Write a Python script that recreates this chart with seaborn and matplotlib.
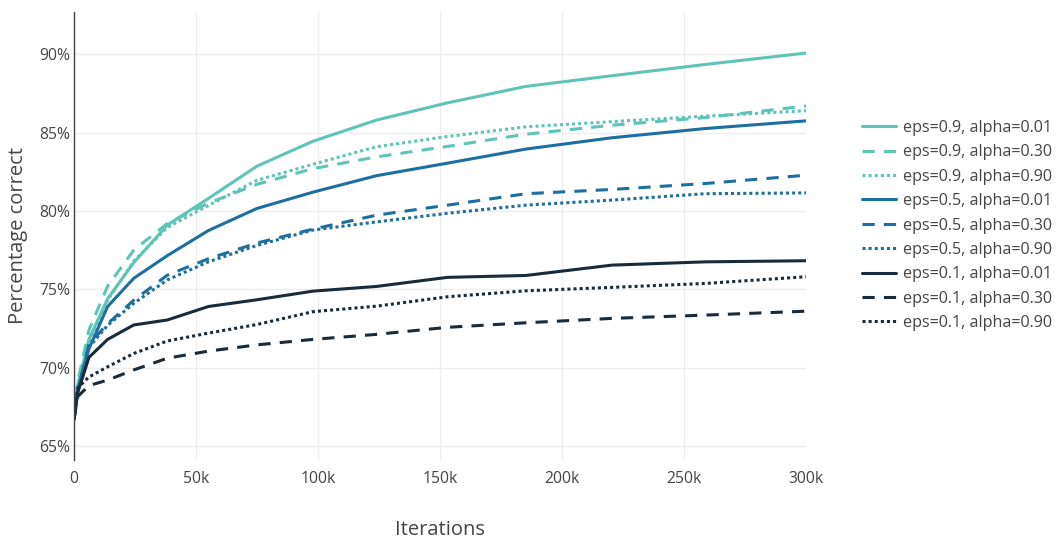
import numpy as np
import pandas as pd
import matplotlib
matplotlib.use("Agg")
import matplotlib.pyplot as plt
import seaborn as sns

# Training iterations at which accuracy was evaluated
iterations = [0, 1531, 6122, 13776, 24490, 38265, 55102, 75000, 97959,
              123980, 153061, 185204, 220408, 258673, 300000]

# Percentage correct for each (epsilon, alpha) configuration
eps09_a001 = [66.7, 68.9, 71.8, 74.4, 76.7, 79.1, 80.8, 82.86, 84.45, 85.8, 86.9, 87.95, 88.63, 89.35, 90.08]
eps09_a030 = [66.7, 69.1, 72.4, 75.2, 77.5, 79.2, 80.5, 81.7, 82.7, 83.45, 84.12, 84.9, 85.47, 85.96, 86.7]
eps09_a090 = [66.7, 68.9, 71.6, 74.3, 76.8, 78.95, 80.35, 81.96, 82.98, 84.1, 84.75, 85.37, 85.7, 86.05, 86.4]
eps05_a001 = [66.7, 68.6, 71.2, 73.9, 75.7, 77.15, 78.75, 80.16, 81.2, 82.25, 83.05, 83.95, 84.67, 85.26, 85.75]
eps05_a030 = [66.7, 68.5, 71.5, 72.8, 74.3, 75.9, 76.95, 77.95, 78.84, 79.73, 80.37, 81.1, 81.37, 81.75, 82.28]
eps05_a090 = [66.7, 68.5, 71.3, 72.7, 74.1, 75.6, 76.75, 77.8, 78.78, 79.3, 79.85, 80.37, 80.69, 81.1, 81.15]
eps01_a001 = [66.7, 68.4, 70.65, 71.8, 72.72, 73.04, 73.9, 74.33, 74.88, 75.18, 75.76, 75.88, 76.54, 76.75, 76.82]
eps01_a030 = [66.7, 68.15, 68.85, 69.2, 69.85, 70.6, 71.05, 71.45, 71.8, 72.12, 72.57, 72.86, 73.14, 73.35, 73.6]
eps01_a090 = [66.7, 68.7, 69.4, 70.05, 70.9, 71.7, 72.2, 72.75, 73.57, 73.92, 74.52, 74.9, 75.12, 75.37, 75.8]

series_names = [
    "eps=0.9, alpha=0.01", "eps=0.9, alpha=0.30", "eps=0.9, alpha=0.90",
    "eps=0.5, alpha=0.01", "eps=0.5, alpha=0.30", "eps=0.5, alpha=0.90",
    "eps=0.1, alpha=0.01", "eps=0.1, alpha=0.30", "eps=0.1, alpha=0.90",
]
series_values = [eps09_a001, eps09_a030, eps09_a090,
                 eps05_a001, eps05_a030, eps05_a090,
                 eps01_a001, eps01_a030, eps01_a090]

TEAL = "#5ec4b8"
BLUE = "#1c6fa0"
NAVY = "#172b3a"
colors = [TEAL] * 3 + [BLUE] * 3 + [NAVY] * 3
dash_cycle = ["", (4, 3), (1, 1)] * 3

df = pd.concat(
    [pd.DataFrame({"Iterations": iterations, "Percentage correct": vals, "config": name})
     for name, vals in zip(series_names, series_values)],
    ignore_index=True,
)

sns.set_theme(style="white")
plt.rcParams["font.family"] = ["Open Sans", "DejaVu Sans"]

W, H = 1061, 542
fig = plt.figure(figsize=(W / 100, H / 100), dpi=100)
ax = fig.add_axes([74 / W, 1 - 460 / H, (806 - 74) / W, (460 - 12) / H])

sns.lineplot(
    data=df, x="Iterations", y="Percentage correct",
    hue="config", style="config", hue_order=series_names, style_order=series_names,
    palette=dict(zip(series_names, colors)),
    dashes=dict(zip(series_names, dash_cycle)),
    linewidth=2.2, ax=ax, legend="full",
)

ax.set_xlim(0, 300000)
ax.set_ylim(64.1, 92.7)
ax.set_xticks([0, 50000, 100000, 150000, 200000, 250000, 300000])
ax.set_xticklabels(["0", "50k", "100k", "150k", "200k", "250k", "300k"])
ax.set_yticks([65, 70, 75, 80, 85, 90])
ax.set_yticklabels([f"{v}%" for v in [65, 70, 75, 80, 85, 90]])

tick_color = "#444444"
ax.tick_params(axis="x", length=0, pad=8, labelsize=11.3, labelcolor=tick_color)
ax.tick_params(axis="y", length=0, pad=3, labelsize=11.3, labelcolor=tick_color)

ax.grid(True, color="#eeeeee", linewidth=1.0)
ax.set_axisbelow(True)
for side in ["top", "right", "bottom"]:
    ax.spines[side].set_visible(False)
ax.spines["left"].set_color("#444444")
ax.spines["left"].set_linewidth(1.0)

ax.set_xlabel("Iterations", fontsize=14.5, color=tick_color)
ax.set_ylabel("Percentage correct", fontsize=14.5, color=tick_color)
ax.xaxis.set_label_coords(0.5, -0.133)
ax.yaxis.set_label_coords(-0.063, 0.5)

handles, labels = ax.get_legend_handles_labels()
ax.legend_.remove()
leg = fig.legend(
    handles, labels, loc="upper left", bbox_to_anchor=(862 / W, 1 - 120 / H),
    frameon=False, fontsize=11.6, handlelength=2.1, handletextpad=0.42,
    labelspacing=0.52, borderpad=0, borderaxespad=0,
)
for t in leg.get_texts():
    t.set_color(tick_color)
for lh in leg.get_lines():
    lh.set_linewidth(2.2)

fig.savefig("out.png", dpi=100)
